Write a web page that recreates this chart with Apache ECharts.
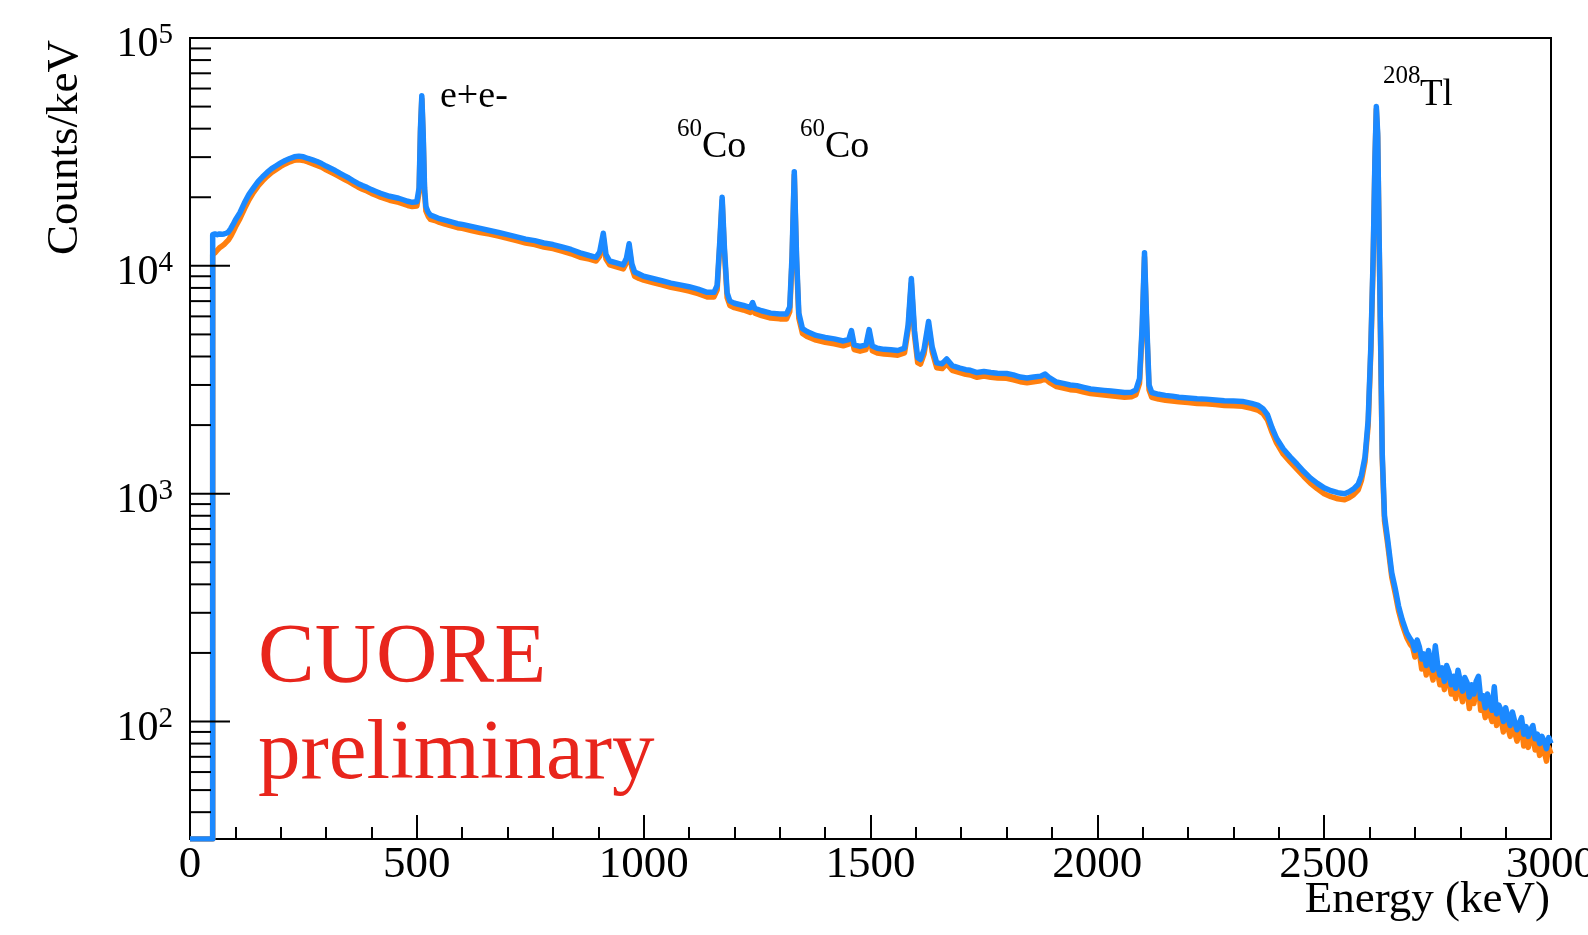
<!DOCTYPE html>
<html><head><meta charset="utf-8">
<script src="https://cdn.jsdelivr.net/npm/echarts@6/dist/echarts.min.js"></script>
<style>html,body{margin:0;padding:0;background:#fff}#c{width:1588px;height:935px}</style>
</head><body><div id="c"></div>
<script>
const energyKeV = [
0,50,50,55,60,65,70,75,80,85,
90,95,100,110,120,130,140,150,160,170,
180,190,200,210,220,230,240,250,260,270,
280,290,300,310,320,330,340,350,360,370,
380,390,400,410,420,430,440,450,460,470,
480,490,500,505,508,511,514,517,520,525,
530,540,550,560,570,580,590,600,620,640,
660,680,700,720,740,760,780,800,820,840,
860,880,895,903,911,917,925,940,955,962,
968,974,980,990,1000,1020,1040,1060,1080,1100,
1120,1140,1155,1162,1168,1173,1178,1184,1190,1200,
1220,1235,1240,1245,1260,1280,1300,1315,1322,1327,
1332,1337,1342,1350,1360,1380,1400,1420,1440,1452,
1458,1464,1477,1490,1497,1504,1515,1530,1545,1560,
1575,1583,1590,1597,1604,1610,1618,1628,1636,1646,
1658,1668,1680,1697,1710,1720,1735,1750,1765,1780,
1800,1815,1830,1845,1860,1875,1885,1895,1910,1925,
1940,1955,1970,1985,2000,2015,2030,2045,2060,2075,
2085,2093,2099,2104,2109,2114,2120,2135,2150,2165,
2180,2200,2220,2240,2260,2280,2300,2320,2340,2355,
2365,2375,2385,2395,2410,2425,2440,2455,2470,2485,
2500,2515,2530,2545,2555,2565,2575,2582,2590,2597,
2603,2608,2612,2615,2618,2621,2625,2628,2633,2640,
2649,2657,2664,2672,2682,2690,2695,2700,2705,2710,
2715,2720,2725,2730,2735,2740,2745,2750,2755,2760,
2765,2770,2775,2780,2785,2790,2795,2800,2805,2810,
2815,2820,2825,2830,2835,2840,2845,2850,2855,2860,
2865,2870,2875,2880,2885,2890,2895,2900,2905,2910,
2915,2920,2925,2930,2935,2940,2945,2950,2955,2960,
2965,2970,2975,2980,2985,2990,2995,3000];

const countsBlue = [
30.5,30.5,13700,13800,13700,13800,13750,13800,13900,14100,
14600,15200,15900,17100,18900,20600,22000,23400,24600,25700,
26700,27500,28300,29000,29600,30100,30300,30100,29600,29200,
28700,28100,27400,26800,26200,25500,24900,24300,23600,23000,
22500,22100,21600,21200,20800,20500,20200,20000,19800,19500,
19200,19000,19100,22000,40000,55800,38000,22000,18200,17200,
16700,16400,16100,15900,15700,15500,15300,15200,14900,14600,
14300,14000,13700,13400,13100,12900,12600,12400,12100,11800,
11400,11100,10900,11500,13900,11200,10500,10300,10100,10800,
12500,10200,9400,9200,9000,8800,8600,8400,8250,8100,
7900,7650,7650,8200,13000,20000,12000,7600,7000,6850,
6700,6550,6900,6500,6350,6200,6150,6150,6600,11000,
25900,11000,6200,5300,5150,4950,4850,4780,4680,4750,
5200,4500,4430,4500,5250,4450,4350,4300,4280,4250,
4350,5500,8800,5200,3950,3880,4300,5700,4400,3750,
3720,3900,3650,3560,3500,3480,3400,3440,3400,3380,
3370,3320,3250,3220,3250,3280,3350,3220,3090,3050,
3000,2980,2930,2880,2860,2840,2820,2800,2780,2790,
2850,3200,5500,11400,5500,3000,2780,2730,2700,2680,
2650,2630,2610,2600,2580,2560,2550,2540,2490,2440,
2360,2220,1950,1750,1570,1450,1350,1250,1170,1110,
1060,1030,1010,1000,1020,1050,1100,1200,1450,2100,
4500,11000,30000,50000,38000,14000,4000,1500,800,628,
449,380,321,280,245,230,222,205,228,212,
188,198,176,205,182,168,215,178,160,172,
150,176,165,145,158,140,168,150,136,156,
148,128,145,132,150,158,126,130,115,132,
120,112,142,108,118,112,100,115,104,96,
110,100,92,98,104,88,95,86,92,96,
84,88,80,86,82,76,85,80];

const countsOrange = [
30.5,30.5,11200,11400,11700,12000,12200,12400,12700,13000,
13500,14100,14800,16100,17800,19500,21000,22400,23600,24700,
25700,26500,27300,28000,28600,29100,29200,29000,28600,28100,
27600,27100,26400,25800,25200,24600,24000,23400,22800,22200,
21700,21300,20800,20400,20000,19700,19400,19200,19000,18700,
18400,18200,18300,21000,38500,54000,36500,21000,17400,16500,
16000,15800,15500,15300,15100,14900,14700,14600,14300,14000,
13800,13500,13200,12900,12600,12400,12100,11900,11600,11300,
10900,10700,10500,11000,13300,10700,10100,9900,9700,10300,
12000,9800,9000,8800,8650,8450,8250,8050,7900,7750,
7550,7300,7300,7850,12500,19300,11500,7250,6700,6550,
6400,6250,6600,6200,6050,5900,5850,5850,6300,10500,
25000,10500,5900,5050,4900,4720,4620,4550,4460,4530,
4950,4290,4220,4290,5000,4240,4140,4100,4080,4050,
4150,5250,8400,4950,3760,3700,4100,5450,4200,3570,
3540,3720,3480,3400,3340,3320,3240,3280,3240,3220,
3210,3160,3100,3070,3100,3130,3190,3070,2950,2910,
2860,2840,2790,2750,2730,2710,2690,2670,2650,2660,
2720,3050,5250,10900,5250,2860,2650,2600,2570,2550,
2530,2510,2490,2480,2460,2440,2430,2420,2370,2320,
2250,2110,1860,1670,1490,1380,1280,1190,1110,1050,
1000,970,950,940,960,990,1040,1140,1380,2000,
4300,10500,29000,48500,36500,13400,3800,1430,760,600,
430,362,306,267,234,218,212,192,215,200,
170,186,160,192,168,152,200,164,145,160,
138,162,152,132,146,126,155,138,122,144,
136,114,134,120,138,145,112,118,104,122,
108,100,130,96,108,102,90,105,94,86,
100,90,82,89,95,78,86,77,84,88,
75,80,71,78,74,67,77,72];

const yMajorTicks = [100, 1000, 10000, 100000];
const yMinorTicks = [40,50,60,70,80,90,
  200,300,400,500,600,700,800,900,
  2000,3000,4000,5000,6000,7000,8000,9000,
  20000,30000,40000,50000,60000,70000,80000,90000];
const xTickInterval = 500;

const FONT = '"Liberation Serif", "Times New Roman", serif';
const chart = echarts.init(document.getElementById('c'), null, {renderer: 'canvas'});

const tickData = yMajorTicks.map(v => [0, v, 40]).concat(yMinorTicks.map(v => [0, v, 21]));

function txt(x, y, text, size, color, align, rot) {
  return {type: 'text', x: x, y: y, rotation: rot || 0, z: 100,
    style: {text: text, font: size + 'px ' + FONT, fill: color || '#000',
      align: align || 'left', verticalAlign: 'middle'}};
}

chart.setOption({
  animation: false,
  backgroundColor: '#fff',
  grid: {left: 190, right: 37, top: 38, bottom: 96, show: true, borderColor: '#000', borderWidth: 2,
    containLabel: false, outerBoundsMode: 'none'},
  xAxis: {
    type: 'value', min: 0, max: 3000, interval: xTickInterval,
    axisLine: {onZero: false, lineStyle: {color: '#000', width: 2}},
    axisTick: {inside: true, length: 24, lineStyle: {color: '#000', width: 2}},
    minorTick: {show: true, splitNumber: 5, length: 12, lineStyle: {color: '#000', width: 2}},
    splitLine: {show: false}, minorSplitLine: {show: false},
    axisLabel: {margin: 4, fontFamily: FONT, fontSize: 45, color: '#000', showMaxLabel: true, showMinLabel: true,
      formatter: function (v) { return String(Math.round(v)); }}
  },
  yAxis: {
    type: 'log', logBase: 10, min: 30.5, max: 100000, splitNumber: 4,
    axisLine: {onZero: false, lineStyle: {color: '#000', width: 2}},
    axisTick: {show: false}, splitLine: {show: false},
    axisLabel: {
      margin: 17, padding: [14, 0, 0, 0],
      formatter: function (v) {
        const e = Math.log10(v);
        if (Math.abs(e - Math.round(e)) > 1e-4) return '';
        return '{b|10}{s|' + Math.round(e) + '}';
      },
      rich: {
        b: {fontFamily: FONT, fontSize: 42, lineHeight: 48, color: '#000'},
        s: {fontFamily: FONT, fontSize: 29, lineHeight: 29, verticalAlign: 'top', color: '#000'}
      }
    }
  },
  series: [
    {type: 'line', name: 'orange', data: energyKeV.map((e, i) => [e, countsOrange[i]]),
      symbol: 'none', showSymbol: false, clip: true, z: 2,
      lineStyle: {color: '#ff7f0e', width: 5.5, join: 'round'}},
    {type: 'line', name: 'blue', data: energyKeV.map((e, i) => [e, countsBlue[i]]),
      symbol: 'none', showSymbol: false, clip: true, z: 3,
      lineStyle: {color: '#1b89ff', width: 5.5, join: 'round'}},
    {type: 'custom', data: tickData, encode: {x: 0, y: 1}, clip: false, silent: true, z: 5,
      renderItem: function (params, api) {
        const p = api.coord([0, api.value(1)]);
        const len = api.value(2);
        return {type: 'line', shape: {x1: p[0], y1: p[1], x2: p[0] + len, y2: p[1]},
          style: {stroke: '#000', lineWidth: 2}};
      }}
  ],
  graphic: [
    txt(440, 97, 'e+e-', 38),
    txt(677, 129.5, '60', 25), txt(702, 147, 'Co', 38),
    txt(800, 129.5, '60', 25), txt(825, 147, 'Co', 38),
    txt(1383, 76.5, '208', 25), txt(1420, 95.4, 'Tl', 37),
    txt(258, 660, 'CUORE', 85, '#e8251c'),
    txt(258, 756, 'preliminary', 85, '#e8251c'),
    txt(1550, 900, 'Energy (keV)', 45, '#000', 'right'),
    txt(64.7, 255, 'Counts/keV', 45, '#000', 'left', Math.PI / 2)
  ]
});
</script></body></html>
